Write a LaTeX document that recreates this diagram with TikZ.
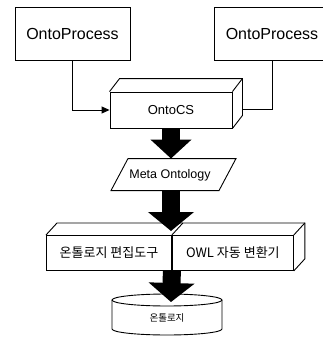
\documentclass[tikz,border=0pt]{standalone}
\usepackage{fontspec}
\setmainfont{Liberation Sans}
\newfontfamily\kr{Noto Sans CJK KR}
\usetikzlibrary{arrows.meta,calc}
\begin{document}
\begin{tikzpicture}[x=1pt,y=-1pt,line width=0.9pt,
  procbox/.style={draw,minimum width=115pt,minimum height=53pt,inner sep=0pt,
    font=\fontsize{16}{18}\selectfont},
  toolbox/.style={draw,minimum height=35pt,inner sep=0pt,anchor=north west,
    font=\kr\fontsize{13}{15}\selectfont},
  conn/.style={line width=1pt},
  fat/.style={line width=18pt,draw=black,-{Triangle[length=19pt,width=#1]}},
  fat/.default=45pt]
\useasboundingbox (0,0) rectangle (323,337);

% two process boxes on top
\node[procbox] (lp) at (72.5,33.5) {OntoProcess};
\node[procbox,minimum width=116pt] (rp) at (272,33.5) {OntoProcess};

% OntoCS as a solid block
\node[draw,minimum width=122pt,minimum height=36pt,inner sep=0pt,
  font=\fontsize{13}{15}\selectfont] (cs) at (171,110) {OntoCS};
\draw (cs.north west) -- ++(10,-13) -- ($(cs.north east)+(10,-13)$)
  -- ($(cs.south east)+(10,-13)$) -- (cs.south east);
\draw (cs.north east) -- ++(10,-13);
\coordinate (csback) at ($(cs.east)+(10,-1)$);

% connectors from the process boxes
\draw[conn,-{Triangle[length=8pt,width=7pt]}] (lp.south) |- (cs.west);
\draw[conn] (rp.south) |- (csback);

% Meta Ontology parallelogram
\node[minimum height=32pt,inner sep=0pt,font=\fontsize{12.5}{14}\selectfont]
  (mo) at (170,175) {Meta Ontology};
\draw ($(mo.north)+(-42,0)$) -- ++(108,0) -- ++(-17,32) -- ++(-108,0) -- cycle;

% tool block split in two halves
\node[toolbox,minimum width=125pt] (ed) at (46,235) {온톨로지 편집도구};
\node[toolbox,minimum width=121pt] (owl) at (ed.north east) {OWL 자동 변환기};
\draw (ed.north west) -- ++(11,-12) -- ($(owl.north east)+(11,-12)$)
  -- ($(owl.south east)+(11,-12)$) -- (owl.south east);
\draw (owl.north east) -- ++(11,-12);
\draw (ed.north east) -- ++(11,-12);
\coordinate (edtop) at (171,231);

% ontology store as a cylinder
\node[font=\kr\fontsize{9.5}{11}\selectfont] (db) at (167,318) {온톨로지};
\draw (167,300) ellipse [x radius=55,y radius=6];
\draw (112,300) -- (112,329) arc [start angle=180,end angle=0,x radius=55,y radius=6]
  -- (222,300);
\coordinate (dbtop) at (171,302);

% wide flow arrows
\draw[fat=40pt] (cs.south) -- (cs.south |- mo.north);
\draw[fat] (mo.south -| edtop) -- (edtop);
\draw[fat] (ed.south east) -- (dbtop);
\end{tikzpicture}
\end{document}
